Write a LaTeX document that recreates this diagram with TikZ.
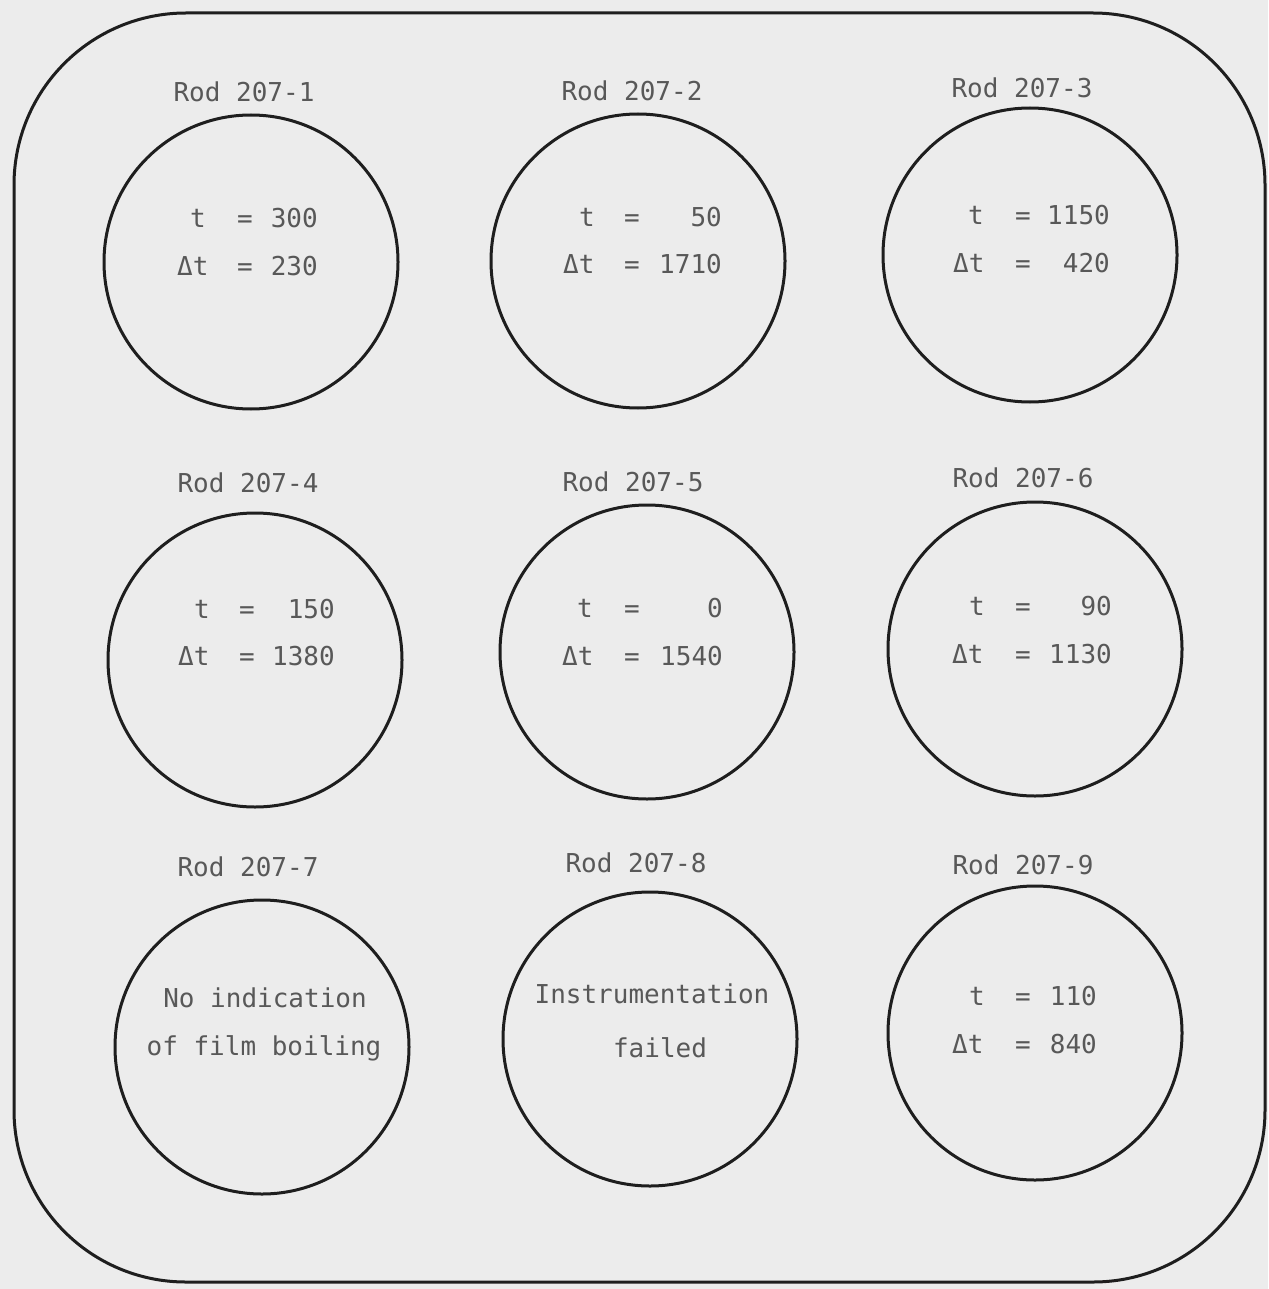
\documentclass[tikz,border=0pt]{standalone}
\usepackage{fontspec}
\newfontfamily\tw{DejaVu Sans Mono}
\definecolor{paper}{RGB}{236,236,236}
\definecolor{ink}{RGB}{30,30,30}
\definecolor{txt}{RGB}{88,88,88}
\tikzset{
  rodc/.style={circle, draw=ink, line width=3pt, minimum size=294pt, inner sep=0pt},
  lbl/.style={font=\tw\fontsize{26}{30}\selectfont, text=txt, inner sep=0pt, anchor=base},
  lw/.style={lbl, anchor=base west},
  le/.style={lbl, anchor=base east},
  frame/.style={draw=ink, line width=3pt, rounded corners=172pt},
}
% #1 name, #2 x of t, #3 x of =, #4 right end of number, #5 left of Delta t,
% #6 baseline 1, #7 baseline 2, #8 value t, #9 value Delta t
\newcommand{\rodvals}[9]{%
  \node[lbl] (#1t) at (#2,#6) {t};
  \node[lbl] (#1te) at (#3,#6) {=};
  \node[le] (#1tn) at (#4,#6) {#8};
  \node[lw] (#1d) at (#5,#7) {Δt};
  \node[lbl] (#1de) at (#3,#7) {=};
  \node[le] (#1dn) at (#4,#7) {#9};
}
\begin{document}
\begin{tikzpicture}[x=1pt, y=-1pt]
\fill[paper] (0,0) rectangle (1268,1289);
\useasboundingbox (0,0) rectangle (1268,1289);
\draw[frame] (14,13) rectangle (1265,1282);

% circles
\node[rodc] (c1) at (251,262) {};
\node[rodc] (c2) at (638,261) {};
\node[rodc] (c3) at (1030,255) {};
\node[rodc] (c4) at (255,660) {};
\node[rodc] (c5) at (647,652) {};
\node[rodc] (c6) at (1035,649) {};
\node[rodc] (c7) at (262,1047) {};
\node[rodc] (c8) at (650,1039) {};
\node[rodc] (c9) at (1035,1033) {};

% labels
\node[lbl] (l1) at (244,102) {Rod 207-1};
\node[lbl] (l2) at (632,101) {Rod 207-2};
\node[lbl] (l3) at (1022,98) {Rod 207-3};
\node[lbl] (l4) at (248,492) {Rod 207-4};
\node[lbl] (l5) at (633,491) {Rod 207-5};
\node[lbl] (l6) at (1023,487) {Rod 207-6};
\node[lbl] (l7) at (248,876) {Rod 207-7};
\node[lbl] (l8) at (636,872) {Rod 207-8};
\node[lbl] (l9) at (1023,874) {Rod 207-9};

% values
\rodvals{v1}{198}{245}{318}{177}{228}{275}{300}{230}
\rodvals{v2}{587}{632}{722}{563}{227}{273}{50}{1710}
\rodvals{v3}{976}{1023}{1110}{953}{225}{272}{1150}{420}
\rodvals{v4}{202}{247}{335}{178}{618}{665}{150}{1380}
\rodvals{v5}{585}{632}{723}{562}{617}{665}{0}{1540}
\rodvals{v6}{977}{1023}{1112}{952}{615}{663}{90}{1130}
\rodvals{v9}{977}{1023}{1097}{952}{1005}{1053}{110}{840}

% text-only rods
\node[lbl] (n7a) at (265,1007) {No indication};
\node[lbl] (n7b) at (264,1055) {of film boiling};
\node[lbl] (n8a) at (652,1003) {Instrumentation};
\node[lbl] (n8b) at (660,1057) {failed};
\end{tikzpicture}
\end{document}
